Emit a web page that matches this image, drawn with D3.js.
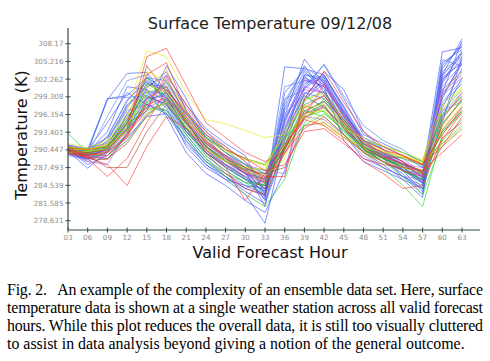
<!DOCTYPE html>
<html>
<head>
<meta charset="utf-8">
<script src="https://cdn.jsdelivr.net/npm/d3@7"></script>
<style>
  body { margin: 0; background: #fff; }
  svg { display: block; }
</style>
</head>
<body>
<svg id="chart" width="490" height="361"></svg>
<script>
// forecast hours on the x axis
const hours = [3, 6, 9, 12, 15, 18, 21, 24, 27, 30, 33, 36, 39, 42, 45, 48, 51, 54, 57, 60, 63];
const hourLabels = ["03", "06", "09", "12", "15", "18", "21", "24", "27", "30", "33", "36", "39", "42", "45", "48", "51", "54", "57", "60", "63"];
const tempTicks = [278.631, 281.585, 284.539, 287.493, 290.447, 293.401, 296.354, 299.308, 302.262, 305.216, 308.17];

// ensemble members, grouped by line colour (K, one value per forecast hour)
const blueMembers = [
  [290.2, 287.4, 290.0, 296.5, 299.5, 298.0, 292.0, 288.0, 285.5, 283.0, 278.2, 292.0, 303.0, 302.0, 294.0, 290.5, 289.0, 287.0, 285.0, 300.0, 308.6],
  [290.8, 290.2, 298.8, 303.2, 303.4, 299.0, 294.0, 291.5, 289.5, 287.0, 281.0, 296.0, 305.6, 301.5, 296.5, 292.0, 290.5, 288.5, 286.5, 306.8, 307.5],
  [291.0, 290.5, 299.0, 299.5, 302.5, 300.5, 296.5, 293.0, 290.0, 287.5, 282.5, 304.3, 304.0, 303.0, 297.5, 291.0, 289.0, 286.0, 284.0, 303.0, 309.0],
  [290.0, 289.5, 292.0, 298.0, 301.0, 302.8, 298.0, 294.0, 291.5, 289.5, 283.0, 293.5, 301.0, 304.6, 299.0, 293.0, 291.5, 290.0, 288.5, 299.0, 305.5],
  [289.8, 288.8, 291.0, 295.0, 300.0, 297.5, 291.0, 287.5, 285.5, 284.5, 284.0, 295.0, 302.5, 301.0, 292.0, 288.5, 287.0, 285.5, 282.5, 302.0, 306.5],
  [290.5, 289.5, 290.5, 294.0, 297.0, 304.5, 299.0, 292.5, 289.0, 286.5, 282.0, 291.0, 300.0, 299.0, 295.0, 291.5, 290.0, 288.5, 286.0, 297.5, 304.0],
  [291.2, 290.0, 293.5, 301.0, 300.5, 296.0, 290.0, 286.5, 284.5, 282.0, 280.0, 287.0, 299.0, 303.5, 300.5, 293.5, 290.5, 287.0, 283.5, 296.0, 302.5],
  [290.3, 290.8, 291.5, 296.0, 299.0, 299.5, 293.5, 290.0, 287.5, 285.5, 283.5, 297.5, 303.5, 300.5, 294.5, 290.0, 288.0, 285.5, 284.0, 304.5, 307.8],
  [289.5, 289.0, 290.0, 293.0, 298.5, 300.0, 295.5, 291.0, 288.5, 286.5, 285.0, 293.0, 298.5, 302.5, 296.5, 292.5, 291.0, 289.5, 287.5, 300.5, 303.5],
  [290.6, 288.0, 289.5, 292.5, 296.0, 296.5, 292.5, 288.5, 286.0, 283.5, 281.5, 290.5, 296.5, 298.0, 293.0, 289.0, 287.5, 286.0, 284.5, 295.0, 306.0],
  [290.4, 289.8, 291.0, 297.5, 302.0, 300.0, 295.0, 290.5, 288.0, 286.0, 283.2, 295.5, 301.5, 303.0, 297.0, 292.0, 289.5, 287.0, 285.5, 302.5, 305.0],
  [291.0, 290.4, 295.0, 300.0, 298.0, 296.5, 291.5, 288.0, 286.0, 284.0, 282.8, 298.0, 304.5, 300.0, 295.0, 290.5, 288.5, 286.5, 283.0, 304.0, 308.2],
  [290.2, 289.6, 290.4, 294.8, 300.8, 303.5, 297.0, 292.5, 290.0, 288.0, 286.5, 292.8, 299.8, 301.8, 296.8, 291.8, 289.8, 288.0, 286.8, 298.0, 301.5],
  [290.0, 289.0, 290.8, 295.5, 301.5, 301.0, 296.0, 291.5, 289.0, 286.5, 284.0, 297.0, 302.8, 299.5, 295.5, 291.0, 289.0, 287.5, 285.0, 302.8, 306.8],
  [290.7, 288.5, 290.2, 293.8, 299.2, 298.2, 293.0, 289.0, 286.5, 284.5, 283.0, 294.0, 300.8, 302.8, 297.8, 292.0, 289.8, 288.0, 285.8, 299.5, 304.8],
  [291.3, 290.6, 292.5, 298.8, 301.8, 299.0, 294.0, 290.0, 287.8, 285.8, 282.2, 300.0, 303.8, 301.2, 296.2, 291.2, 289.2, 287.2, 284.8, 305.0, 307.2]
];
const lightBlueMembers = [
  [290.5, 290.0, 299.0, 299.2, 299.5, 301.5, 296.5, 293.0, 291.0, 288.5, 283.8, 301.0, 302.0, 301.0, 296.0, 291.0, 289.0, 287.5, 285.5, 305.5, 304.5],
  [291.0, 289.8, 296.0, 302.0, 303.0, 298.0, 293.5, 289.5, 287.0, 285.0, 284.5, 299.0, 300.5, 304.8, 299.5, 294.5, 292.0, 290.5, 288.0, 301.5, 307.0],
  [290.0, 290.2, 292.5, 297.0, 298.0, 297.0, 292.0, 288.5, 286.0, 284.0, 285.5, 296.5, 299.5, 297.5, 294.0, 290.0, 288.5, 287.0, 286.5, 298.5, 302.0],
  [290.0, 289.2, 292.8, 298.5, 302.5, 302.0, 297.5, 293.5, 290.5, 288.0, 285.0, 295.2, 303.0, 302.5, 297.5, 292.5, 290.5, 288.0, 285.8, 303.5, 306.5],
  [290.3, 289.4, 291.8, 297.8, 300.2, 299.8, 294.6, 290.4, 287.8, 285.6, 283.6, 298.6, 304.2, 302.2, 296.6, 291.4, 289.4, 287.6, 285.2, 301.8, 305.8]
];
const purpleMembers = [
  [290.3, 289.5, 289.0, 292.0, 296.5, 298.5, 294.0, 290.0, 288.0, 286.5, 285.5, 294.0, 302.0, 302.0, 296.0, 291.5, 290.0, 288.5, 285.0, 303.0, 306.0],
  [289.8, 288.5, 288.0, 293.5, 298.0, 297.0, 293.5, 291.0, 289.0, 287.5, 286.0, 292.0, 299.0, 301.5, 297.0, 292.0, 290.5, 289.0, 286.5, 299.5, 302.5],
  [290.6, 289.8, 290.5, 294.5, 297.5, 299.0, 296.0, 292.5, 290.5, 289.0, 288.0, 290.5, 297.0, 298.5, 295.5, 291.0, 289.5, 288.0, 287.5, 296.5, 300.0],
  [291.2, 290.5, 291.5, 295.5, 300.5, 298.5, 295.0, 291.5, 289.5, 288.0, 287.0, 286.5, 296.0, 295.5, 293.0, 289.5, 287.5, 286.0, 285.5, 297.0, 298.5],
  [290.8, 290.0, 291.2, 296.5, 301.5, 300.5, 295.0, 291.0, 288.5, 286.5, 284.5, 294.5, 301.0, 300.0, 295.2, 290.5, 288.5, 287.0, 286.0, 301.0, 304.8],
  [290.5, 289.7, 290.6, 294.2, 299.0, 301.8, 296.8, 292.0, 289.4, 287.4, 285.8, 295.8, 302.2, 301.0, 296.4, 291.6, 289.6, 288.2, 286.2, 302.2, 305.2]
];
const redMembers = [
  [290.5, 290.0, 290.5, 294.0, 306.0, 307.4, 301.2, 295.0, 292.5, 290.0, 288.5, 290.0, 294.0, 296.0, 293.0, 290.0, 288.5, 287.0, 286.0, 291.0, 296.0],
  [291.0, 289.0, 286.0, 289.0, 295.0, 300.5, 296.5, 292.0, 289.5, 287.5, 286.0, 286.0, 299.0, 303.6, 298.4, 293.5, 291.0, 289.5, 288.0, 293.0, 297.5],
  [290.0, 289.2, 288.0, 284.5, 291.0, 296.0, 294.0, 290.5, 287.5, 282.0, 286.5, 291.5, 295.5, 294.5, 292.0, 288.5, 286.5, 284.0, 284.5, 292.5, 295.0],
  [290.8, 290.5, 291.0, 295.0, 303.0, 305.0, 297.0, 293.0, 290.5, 289.0, 287.0, 288.0, 293.5, 294.0, 291.5, 289.0, 288.0, 287.5, 287.0, 290.0, 293.0],
  [289.8, 289.5, 290.0, 292.5, 299.0, 301.0, 295.5, 290.0, 286.5, 284.0, 283.0, 290.5, 297.5, 299.5, 295.0, 291.5, 290.0, 288.5, 286.5, 294.5, 299.0],
  [290.2, 289.6, 290.2, 293.5, 297.5, 303.0, 298.0, 293.5, 291.0, 288.5, 285.2, 291.0, 296.0, 301.5, 296.0, 292.0, 290.5, 289.5, 288.0, 295.5, 300.0],
  [290.3, 289.8, 289.5, 292.8, 298.0, 299.2, 295.2, 291.8, 289.2, 286.8, 284.8, 289.8, 295.8, 297.8, 294.2, 290.8, 289.2, 288.2, 286.8, 292.2, 296.8]
];
const yellowMembers = [
  [290.5, 290.5, 291.5, 297.0, 307.0, 306.0, 300.0, 295.5, 294.8, 293.7, 292.5, 293.0, 296.0, 294.5, 292.5, 291.0, 290.0, 289.5, 288.5, 291.5, 294.0],
  [291.5, 290.8, 292.0, 296.0, 303.5, 302.0, 297.0, 293.0, 290.5, 289.0, 288.0, 291.0, 296.5, 297.0, 294.0, 292.5, 291.0, 290.0, 288.8, 298.0, 301.0],
  [290.0, 290.2, 290.5, 294.5, 300.0, 304.0, 296.0, 291.5, 289.0, 287.0, 286.0, 289.0, 298.0, 295.0, 292.8, 290.0, 288.5, 287.5, 286.5, 294.0, 298.0],
  [290.8, 290.6, 291.0, 293.5, 296.5, 298.5, 294.5, 290.5, 288.5, 287.5, 287.2, 294.0, 297.5, 298.0, 294.8, 291.5, 290.2, 289.2, 288.4, 300.0, 303.5],
  [291.0, 290.4, 291.4, 295.2, 301.2, 300.2, 295.8, 292.2, 290.2, 288.8, 287.8, 292.8, 298.8, 299.8, 295.2, 291.8, 290.4, 289.4, 288.2, 297.2, 300.8]
];
const greenMembers = [
  [293.2, 290.0, 290.5, 294.0, 301.5, 299.5, 294.0, 289.5, 287.0, 285.0, 283.0, 290.0, 296.0, 297.0, 293.5, 290.0, 287.5, 284.5, 281.0, 293.0, 297.0],
  [290.5, 289.8, 290.0, 293.0, 298.5, 302.0, 296.5, 292.5, 290.0, 288.0, 285.5, 291.5, 297.0, 296.0, 293.0, 290.0, 288.5, 286.0, 283.0, 292.0, 295.5],
  [291.0, 290.5, 291.0, 295.5, 297.5, 297.0, 293.0, 289.0, 286.0, 283.0, 281.0, 285.5, 295.0, 298.5, 294.5, 290.5, 288.5, 287.0, 285.5, 295.0, 298.5],
  [290.2, 289.5, 289.5, 292.0, 296.0, 299.0, 295.5, 292.5, 290.5, 289.0, 288.0, 293.5, 299.5, 297.5, 294.5, 292.0, 291.0, 290.0, 288.5, 291.5, 294.5],
  [289.8, 290.2, 290.8, 294.5, 299.5, 296.5, 292.5, 288.5, 286.5, 285.0, 284.5, 292.5, 295.5, 299.0, 295.5, 291.0, 289.0, 287.5, 286.5, 297.0, 300.5],
  [290.6, 290.4, 291.2, 296.0, 300.0, 301.0, 295.0, 291.0, 288.5, 287.0, 286.4, 290.8, 294.5, 296.5, 293.8, 290.5, 289.0, 288.0, 287.0, 293.5, 296.5],
  [290.4, 290.0, 290.6, 293.8, 298.2, 300.5, 295.8, 291.8, 289.2, 287.2, 285.0, 292.0, 298.8, 300.2, 295.8, 291.2, 289.2, 287.8, 284.0, 294.8, 298.8],
  [290.9, 290.3, 291.0, 294.8, 297.0, 298.2, 294.2, 290.8, 288.8, 287.6, 287.0, 293.0, 297.8, 296.8, 293.5, 290.8, 289.8, 289.0, 287.8, 296.2, 299.2]
];
const brownMembers = [
  [290.6, 289.5, 287.5, 287.5, 293.5, 298.0, 294.0, 290.5, 288.5, 287.2, 286.5, 287.5, 294.5, 295.0, 292.5, 290.2, 289.2, 289.2, 288.0, 291.0, 294.0],
  [290.0, 289.0, 288.8, 293.0, 304.5, 300.0, 295.0, 291.0, 288.0, 286.0, 284.0, 291.0, 296.5, 297.5, 294.0, 291.0, 289.5, 288.0, 287.0, 293.5, 297.0],
  [290.1, 289.3, 289.0, 291.5, 296.2, 298.8, 294.8, 291.2, 288.6, 286.6, 285.6, 290.6, 296.8, 298.6, 294.6, 290.6, 289.0, 287.6, 286.4, 293.8, 297.6]
];
const tealMembers = [
  [290.8, 290.0, 290.5, 295.0, 302.5, 298.5, 293.5, 290.0, 287.5, 285.5, 284.5, 291.0, 298.0, 299.5, 295.0, 290.5, 288.5, 287.0, 285.5, 296.0, 299.5]
];
const magentaMembers = [
  [290.4, 289.2, 289.5, 293.0, 297.0, 302.5, 296.0, 291.5, 289.0, 287.0, 285.5, 292.5, 300.5, 300.0, 295.5, 291.5, 289.5, 288.0, 286.0, 300.0, 303.0]
];

const groups = [
  { members: blueMembers, color: "#3149ff" },
  { members: lightBlueMembers, color: "#4f7fe8" },
  { members: purpleMembers, color: "#9a5cf0" },
  { members: brownMembers, color: "#a0421e" },
  { members: tealMembers, color: "#138a4a" },
  { members: greenMembers, color: "#1ccf1c" },
  { members: yellowMembers, color: "#e8e800" },
  { members: magentaMembers, color: "#c23ec2" },
  { members: redMembers, color: "#ff2a2a" }
];

const svg = d3.select("#chart");

const x = d3.scaleLinear().domain([3, 63]).range([68, 462]);
const y = d3.scaleLinear().domain([278.631, 308.17]).range([220.7, 43.7]);

const axisColor = "#2f4a4a";
const tickColor = "#8c8c8c";

// ensemble lines
const line = d3.line()
  .x((d, i) => x(hours[i]))
  .y(d => y(d));

groups.forEach(g => {
  svg.append("g")
    .selectAll("path")
    .data(g.members)
    .join("path")
    .attr("d", line)
    .attr("fill", "none")
    .attr("stroke", g.color)
    .attr("stroke-opacity", 0.6)
    .attr("stroke-width", 1);
});

// y axis
const yAxis = svg.append("g");
yAxis.append("line")
  .attr("x1", 68).attr("x2", 68)
  .attr("y1", 28).attr("y2", 230)
  .attr("stroke", axisColor).attr("stroke-width", 1.2);
yAxis.selectAll(".tick")
  .data(tempTicks)
  .join("line")
  .attr("x1", 65.5).attr("x2", 70.5)
  .attr("y1", d => y(d)).attr("y2", d => y(d))
  .attr("stroke", axisColor).attr("stroke-width", 1);
yAxis.selectAll("text")
  .data(tempTicks)
  .join("text")
  .attr("x", 63.5)
  .attr("y", d => y(d) + 2.6)
  .attr("text-anchor", "end")
  .attr("font-family", "DejaVu Sans")
  .attr("font-size", "7.2px")
  .attr("fill", tickColor)
  .text(d => d3.format(".6~g")(d));

// x axis
const xAxis = svg.append("g");
xAxis.append("line")
  .attr("x1", 68).attr("x2", 480)
  .attr("y1", 230).attr("y2", 230)
  .attr("stroke", axisColor).attr("stroke-width", 1.2);
xAxis.selectAll(".tick")
  .data(hours)
  .join("line")
  .attr("x1", d => x(d)).attr("x2", d => x(d))
  .attr("y1", 227.5).attr("y2", 232.5)
  .attr("stroke", axisColor).attr("stroke-width", 1);
xAxis.selectAll("text")
  .data(hours)
  .join("text")
  .attr("x", d => x(d))
  .attr("y", 239.5)
  .attr("text-anchor", "middle")
  .attr("font-family", "DejaVu Sans")
  .attr("font-size", "7.2px")
  .attr("fill", tickColor)
  .text((d, i) => hourLabels[i]);

// titles
svg.append("text")
  .attr("x", 270).attr("y", 29)
  .attr("text-anchor", "middle")
  .attr("font-family", "DejaVu Sans")
  .attr("font-size", "16px")
  .attr("fill", "#222")
  .text("Surface Temperature 09/12/08");

svg.append("text")
  .attr("x", 270).attr("y", 258)
  .attr("text-anchor", "middle")
  .attr("font-family", "DejaVu Sans")
  .attr("font-size", "16px")
  .attr("fill", "#111")
  .text("Valid Forecast Hour");

svg.append("text")
  .attr("transform", "translate(27,135) rotate(-90)")
  .attr("text-anchor", "middle")
  .attr("font-family", "DejaVu Sans")
  .attr("font-size", "16px")
  .attr("fill", "#111")
  .text("Temperature (K)");

// caption
const caption = [
  "Fig. 2.\u00a0\u00a0 An example of the complexity of an ensemble data set. Here, surface",
  "temperature data is shown at a single weather station across all valid forecast",
  "hours. While this plot reduces the overall data, it is still too visually cluttered",
  "to assist in data analysis beyond giving a notion of the general outcome."
];
svg.append("g")
  .selectAll("text")
  .data(caption)
  .join("text")
  .attr("x", 7)
  .attr("y", (d, i) => 295 + i * 18)
  .attr("font-family", "Liberation Serif")
  .attr("font-size", "15.9px")
  .attr("fill", "#000")
  .each(function (d, i) {
    const t = d3.select(this).text(d);
    if (i < 3) t.attr("textLength", 476).attr("lengthAdjust", "spacing");
  });
</script>
</body>
</html>
